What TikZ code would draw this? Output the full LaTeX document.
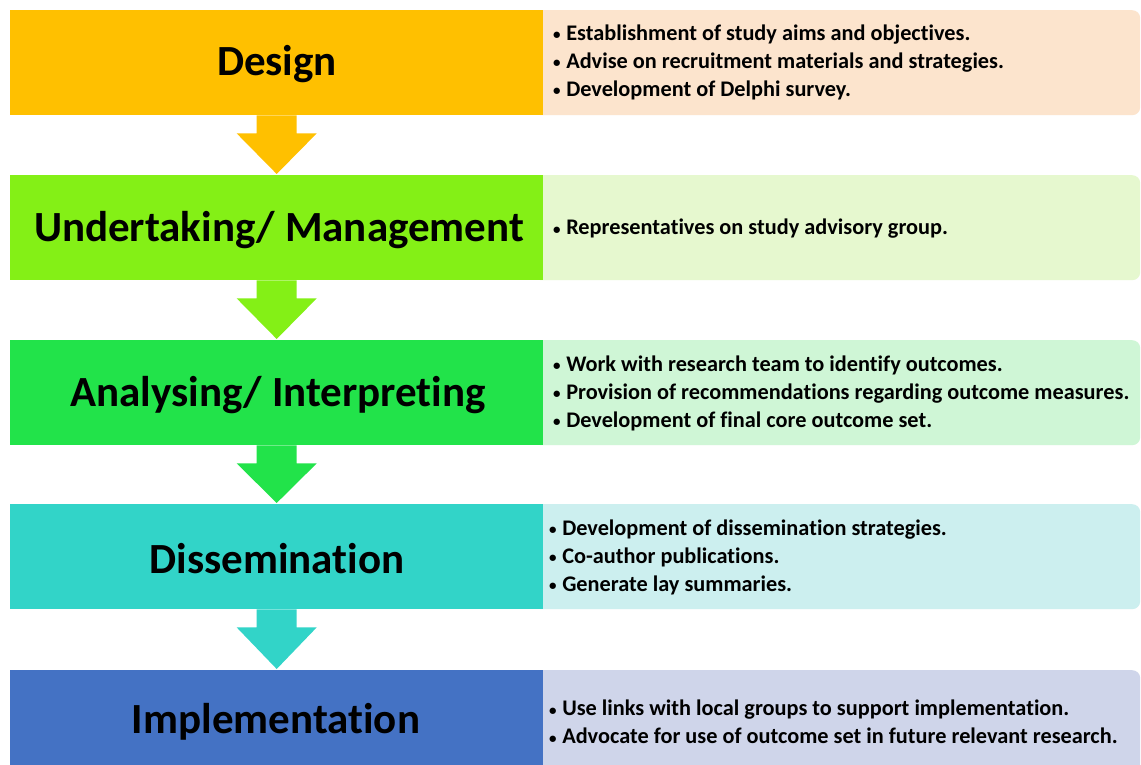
\documentclass[tikz,border=0pt]{standalone}
\usepackage{fontspec}
\setmainfont{Carlito}[Ligatures=NoCommon]
\usetikzlibrary{calc}
\definecolor{c1}{HTML}{FFC000}
\definecolor{r1}{HTML}{FCE4CD}
\definecolor{c2}{HTML}{84F016}
\definecolor{r2}{HTML}{E6F8CF}
\definecolor{c3}{HTML}{22E34A}
\definecolor{r3}{HTML}{CFF6D6}
\definecolor{c4}{HTML}{32D4C8}
\definecolor{r4}{HTML}{CCEFEF}
\definecolor{c5}{HTML}{4472C4}
\definecolor{r5}{HTML}{CFD5EA}
\newcommand{\bul}{{\fontsize{15}{15}\selectfont\raisebox{0.5pt}{•}}\hspace{0.25em}}
\begin{document}
\begin{tikzpicture}[x=1pt,y=-1pt,
  titlebox/.style={minimum width=533pt, minimum height=105pt, inner sep=0pt, anchor=north west},
  titletext/.style={font=\fontsize{43}{48}\selectfont\bfseries, inner sep=0pt},
  infobox/.style={minimum width=607pt, minimum height=105pt, inner sep=0pt, anchor=north west, rounded corners=8pt},
  itemtext/.style={font=\fontsize{22.3}{28}\selectfont\bfseries, align=left, anchor=west, inner sep=0pt},
]
\useasboundingbox (0,0) rectangle (1141,765);
\clip (0,0) rectangle (1141,765);
\fill[white] (0,0) rectangle (1141,765);

% right info boxes
\node[infobox, fill=r1] (i1) at (533,10) {};
\node[infobox, fill=r2] (i2) at (533,175) {};
\node[infobox, fill=r3] (i3) at (533,340) {};
\node[infobox, fill=r4] (i4) at (533,504) {};
\node[infobox, fill=r5] (i5) at (533,670) {};

% left title boxes
\node[titlebox, fill=c1] (d1) at (10,10) {};
\node[titlebox, fill=c2] (d2) at (10,175) {};
\node[titlebox, fill=c3] (d3) at (10,340) {};
\node[titlebox, fill=c4] (d4) at (10,504) {};
\node[titlebox, fill=c5] (d5) at (10,670) {};

\node[titletext] (l1) at (277,64) {Design};
\node[titletext] (l2) at (279,230) {Undertaking/ Management};
\node[titletext] (l3) at (278,395) {Analysing/ Interpreting};
\node[titletext] (l4) at (277,559) {Dissemination};
\node[titletext] (l5) at (276,722) {Implementation};

% arrows
\foreach \a/\b/\c in {d1/d2/c1, d2/d3/c2, d3/d4/c3, d4/d5/c4}{
  \fill[\c] ($(\a.south)+(-20,0)$) -- ($(\a.south)+(20,0)$) -- ($(\a.south)+(20,18)$)
    -- ($(\a.south)+(40,18)$) -- ($(\b.north)+(0,-1)$) -- ($(\a.south)+(-40,18)$)
    -- ($(\a.south)+(-20,18)$) -- cycle;
}

% bullet texts
\node[itemtext] (t1) at (553,62) {\bul Establishment of study aims and objectives.\\\bul Advise on recruitment materials and strategies.\\\bul Development of Delphi survey.};
\node[itemtext] (t2) at (553,229) {\bul Representatives on study advisory group.};
\node[itemtext] (t3) at (553,393) {\bul Work with research team to identify outcomes.\\\bul Provision of recommendations regarding outcome measures.\\\bul Development of final core outcome set.};
\node[itemtext] (t4) at (549,557) {\bul Development of dissemination strategies.\\\bul Co-author publications.\\\bul Generate lay summaries.};
\node[itemtext] (t5) at (549,722) {\bul Use links with local groups to support implementation.\\\bul Advocate for use of outcome set in future relevant research.};
\end{tikzpicture}
\end{document}
